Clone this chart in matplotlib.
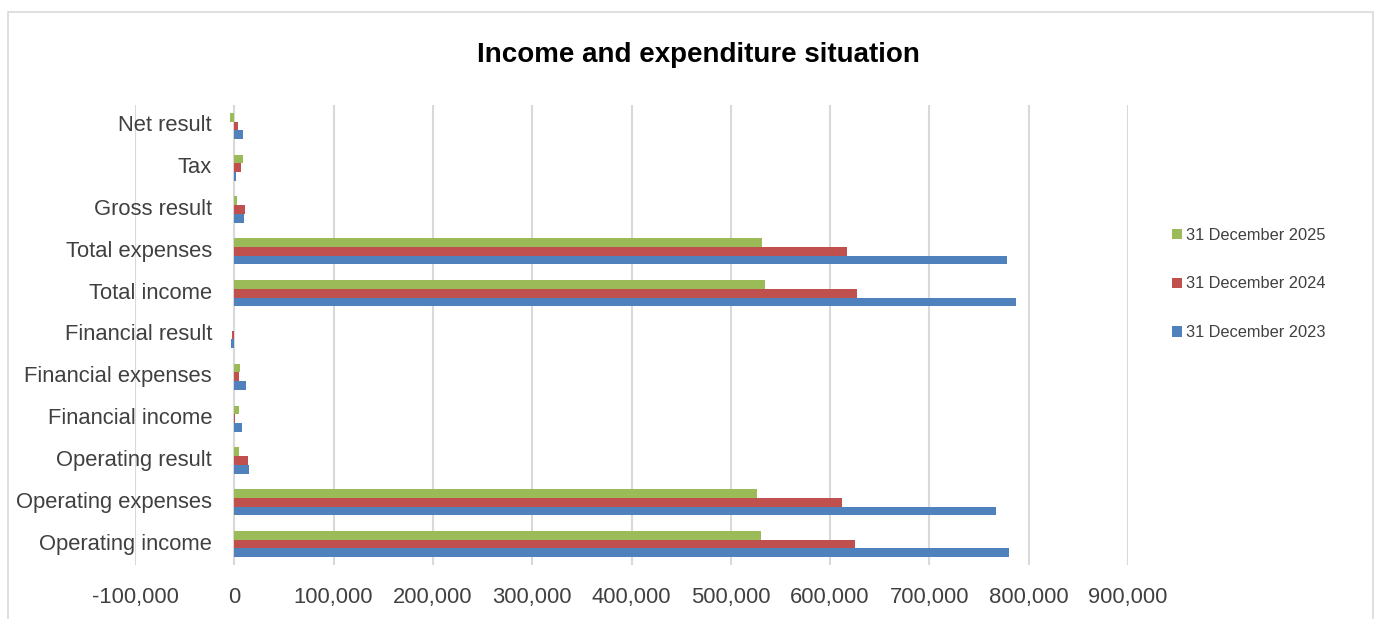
import numpy as np
import matplotlib
matplotlib.use("Agg")
import matplotlib.pyplot as plt
from matplotlib.patches import Rectangle, Patch

# data
categories = [
    "Operating income",
    "Operating expenses",
    "Operating result",
    "Financial income",
    "Financial expenses",
    "Financial result",
    "Total income",
    "Total expenses",
    "Gross result",
    "Tax",
    "Net result",
]
dec_2023 = [780100, 766700, 14500, 7500, 11500, -3500, 787200, 777800, 10000, 2000, 8500]
dec_2024 = [625100, 612300, 14000, 1000, 5000, -2000, 626700, 616700, 10500, 7000, 4000]
dec_2025 = [530000, 526700, 4500, 4500, 5500, 0, 534400, 531400, 3000, 8500, -4000]
series_names = ["31 December 2023", "31 December 2024", "31 December 2025"]
colors = ["#4f81bd", "#c0504d", "#9bbb59"]
x_ticks = np.arange(-100000, 900001, 100000)

plt.rcParams["font.family"] = ["Liberation Sans", "DejaVu Sans"]

W, H = 1379, 619
fig = plt.figure(figsize=(W / 100, H / 100), dpi=100)

# chart border
fig.patches.append(
    Rectangle((8 / W, -0.05), (1373 - 8) / W, (H - 12) / H + 0.05,
              transform=fig.transFigure, fill=False, edgecolor="#d9d9d9", lw=1.2)
)

left, right, top, bottom = 135, 1128, 105, 565
ax = fig.add_axes([left / W, 1 - bottom / H, (right - left) / W, (bottom - top) / H])

y = np.arange(len(categories))
h = 0.208
for k, vals in enumerate([dec_2023, dec_2024, dec_2025]):
    ax.barh(y + (k - 1) * h, vals, height=h, color=colors[k], zorder=3)

ax.set_xlim(-100000, 900000)
ax.set_ylim(-0.5, len(categories) - 0.5)
ax.set_xticks(x_ticks)
ax.set_xticklabels([f"{v:,}" for v in x_ticks])
ax.set_yticks([])
ax.tick_params(axis="x", length=0, pad=16, labelsize=15.8, labelcolor="#404040")
for s in ax.spines.values():
    s.set_visible(False)
ax.grid(axis="x", color="#d9d9d9", lw=1.5, zorder=0)
ax.axvline(0, color="#d9d9d9", lw=1.5, zorder=1)

# category labels sit next to the zero axis
for i, name in enumerate(categories):
    ax.annotate(name, xy=(0, i), xycoords="data", xytext=(-16, 0),
                textcoords="offset points", ha="right", va="center",
                fontsize=15.8, color="#404040")

fig.text(698 / W, 1 - 55 / H, "Income and expenditure situation",
         ha="center", va="center", fontsize=20, fontweight="bold", color="black")

handles = [Patch(facecolor=colors[k], label=series_names[k]) for k in [2, 1, 0]]
fig.legend(handles=handles, loc="center left", bbox_to_anchor=(1157 / W, 1 - 284 / H),
           frameon=False, fontsize=11.8, handlelength=0.6, handleheight=0.6,
           handletextpad=0.3, labelspacing=2.05, labelcolor="#404040")

fig.savefig("out.png", dpi=100)
